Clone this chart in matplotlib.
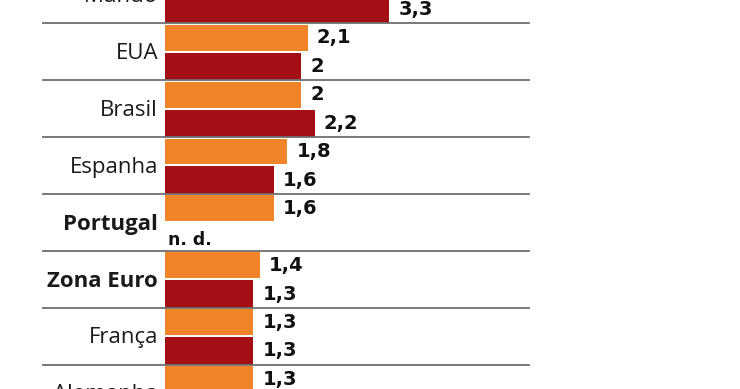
import matplotlib
matplotlib.use("Agg")
import matplotlib.pyplot as plt
import numpy as np

countries = ["Mundo", "EUA", "Brasil", "Espanha", "Portugal", "Zona Euro", "França", "Alemanha"]
bold_countries = ["Portugal", "Zona Euro"]
series_orange = [3.4, 2.1, 2.0, 1.8, 1.6, 1.4, 1.3, 1.3]
series_red = [3.3, 2.0, 2.2, 1.6, None, 1.3, 1.3, 1.5]
missing_label = "n. d."

ORANGE = "#F08428"
RED = "#A30F14"
LINE = "#6e6e6e"

W, H, DPI = 740, 389, 100
fig = plt.figure(figsize=(W / DPI, H / DPI), dpi=DPI)
ax = fig.add_axes([0, 0, 1, 1])

x0_px = 165.0
px_per_unit = 68.0
row_px = 56.9
first_line_px = 23.5
ax.set_xlim(-x0_px / px_per_unit, (W - x0_px) / px_per_unit)
top = 0.5 - first_line_px / row_px
bottom = 0.5 + (H - first_line_px) / row_px
ax.set_ylim(bottom, top)
ax.axis("off")

y = np.arange(len(countries))
oy = y - 0.25
ry = y + 0.255
ax.barh(oy, series_orange, height=0.455, color=ORANGE, linewidth=0)
red_vals = [v if v is not None else 0 for v in series_red]
ax.barh(ry, red_vals, height=0.485, color=RED, linewidth=0)

def fmt(v):
    return f"{v:g}".replace(".", ",")

val_font = dict(family="DejaVu Sans", fontsize=14, fontweight="bold", color="#111111")
for yi, v in zip(oy, series_orange):
    ax.annotate(fmt(v), xy=(v, yi), xytext=(9, 0), textcoords="offset pixels",
                ha="left", va="center", **val_font)
for yi, v in zip(ry, series_red):
    if v is None:
        ax.annotate(missing_label, xy=(0, yi), xytext=(3, -3), textcoords="offset pixels",
                    ha="left", va="center", family="DejaVu Sans", fontsize=12.5,
                    fontweight="bold", color="#111111")
    else:
        ax.annotate(fmt(v), xy=(v, yi), xytext=(9, 0), textcoords="offset pixels",
                    ha="left", va="center", **val_font)

for yi, c in zip(y, countries):
    ax.annotate(c, xy=(0, yi), xytext=(-7, -7), textcoords="offset pixels",
                ha="right", va="baseline", family="Open Sans", fontsize=16,
                fontweight="bold" if c in bold_countries else "normal", color="#1a1a1a",
                annotation_clip=False)

for yi in y[:-1]:
    ax.axhline(yi + 0.5, xmin=43 / W, xmax=529 / W, color=LINE, linewidth=1.3)

fig.savefig("out.png", dpi=DPI)
